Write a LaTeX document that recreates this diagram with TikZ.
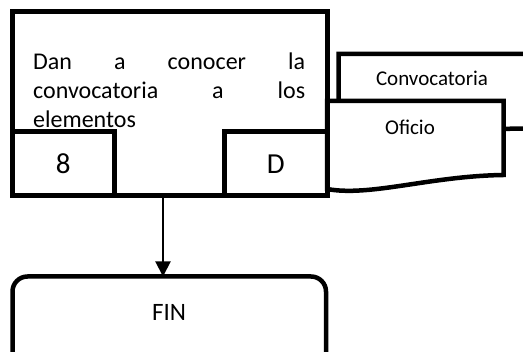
\documentclass[tikz,border=0pt]{standalone}
\usepackage{fontspec}
\setmainfont{Carlito}
\usetikzlibrary{arrows.meta}
\begin{document}
\begin{tikzpicture}[x=1pt,y=-1pt,
  box/.style={draw,line width=5pt,inner sep=0pt,outer sep=0pt,anchor=north west},
  doc/.style={draw,fill=white,line width=4.5pt,line join=miter}]
\useasboundingbox (0,0) rectangle (523,352);
\clip (0,0) rectangle (523,352);
\pgfmathsetmacro{\ax}{163}
% documentos
\draw[doc](338.5,130)--(338.5,54)--(545,54)--(545,128.5)--cycle;
\draw[doc](327,189)--(327,101)--(503.5,101)--(503.5,175) .. controls (430,176) and (370,197) .. (327,189)--cycle;
\node[font=\fontsize{21}{25}\selectfont](conv) at (432,78){Convocatoria};
\node[font=\fontsize{21}{25}\selectfont](ofi) at (410,127){Oficio};
% actividad
\node[box,minimum width=315pt,minimum height=184pt](act) at (12,12){};
\node[anchor=north west,inner sep=0pt,text width=272pt,align=justify,font=\fontsize{24}{29}\selectfont](txt) at (33,53){Dan a conocer la\linebreak convocatoria a los\linebreak elementos};
\node[box,minimum width=102.5pt,minimum height=64pt,font=\fontsize{29}{35}\selectfont](num) at (12,132){8};
\node[box,minimum width=102.5pt,minimum height=64pt,font=\fontsize{29}{35}\selectfont](resp) at (224.5,132){D};
% fin
\node[box,line width=4.5pt,rounded corners=15pt,minimum width=313.5pt,minimum height=100pt](fin) at (12.5,276.5){};
\node[font=\fontsize{25}{30}\selectfont](fintxt) at (169,312){FIN};
\coordinate(ar) at (\ax,0);
\draw[line width=2pt,-{Triangle[length=15pt,width=15pt]}](act.south -| ar)--(fin.north -| ar);
\end{tikzpicture}
\end{document}
